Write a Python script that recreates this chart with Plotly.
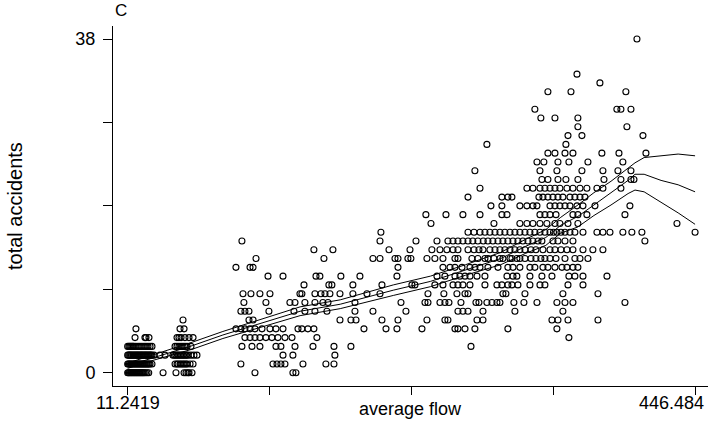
import plotly.graph_objects as go

# ---------------- data ----------------
# flow values (x) of the observations for each accident count (y)
flow_acc0 = [11.2419, 11.9, 12.6, 13.4, 14.1, 14.9, 15.6, 16.4, 17.1, 17.9, 18.6, 19.4, 20.1, 20.9, 21.6, 22.4,
             23.1, 23.9, 24.9, 26.1, 27.4,
             38.4, 48.3, 54.5, 56.0, 57.5, 58.3, 60.6, 108.9, 138.0, 140.3]
flow_acc1 = [11.2419, 11.9, 12.6, 13.4, 14.1, 14.9, 15.6, 16.4, 17.1, 17.9, 18.6, 19.4, 20.1, 20.9, 21.6, 22.4,
             23.1, 23.9, 24.6, 25.4, 26.1, 26.9, 27.6, 28.4, 29.9,
             47.6, 49.1, 49.9, 51.4, 52.2, 53.7, 54.5, 56.0, 56.8, 59.1, 61.4,
             98.1, 122.7, 125.8, 128.8, 131.9, 145.7, 163.3, 169.5]
flow_acc2 = [11.2419, 12.0, 12.8, 13.5, 14.2, 15.1, 15.9, 16.7, 17.5, 18.3, 19.0, 19.8, 20.6, 21.4, 22.1, 22.9,
             23.7, 24.5, 25.2, 26.0, 26.8, 27.6, 28.4, 29.1, 29.9, 31.5, 36.0, 39.9,
             46.0, 47.2, 48.3, 49.5, 50.6, 51.8, 52.9, 54.1, 55.2, 56.4, 57.5, 59.8, 62.1, 64.4,
             130.4, 138.0, 170.2]
flow_acc3 = [11.2419, 12.2, 13.0, 13.8, 14.6, 15.3, 16.1, 17.6, 19.2, 20.7, 22.2, 23.8, 25.3, 26.8, 28.4, 29.9,
             47.6, 49.1, 50.6, 52.2, 53.7, 55.2, 56.8, 59.8,
             98.9, 106.6, 112.7, 125.0, 128.8, 139.6, 153.4, 169.5, 182.5, 274.6]
flow_acc4 = [16.9, 24.5, 25.3, 27.6, 49.1, 50.6, 52.2, 55.2, 58.3, 61.4,
             101.2, 105.1, 108.9, 112.7, 117.3, 121.9, 126.5, 131.9, 137.3, 156.4, 349.7]
flow_acc5 = [17.6, 51.4, 54.5, 94.3, 98.1, 101.2, 105.1, 108.9, 114.3, 120.4, 125.0, 130.4, 141.9, 144.9, 149.5,
             154.1, 192.5, 209.4, 217.8, 237.0, 262.3, 264.6, 270.0, 277.6, 302.9, 340.5]
flow_acc6 = [53.7, 104.3, 107.4, 174.1, 182.5, 186.4, 206.3, 218.6, 240.8, 254.6, 256.9, 279.2, 283.8,
             336.7, 341.3, 349.0, 372.0]
flow_acc7 = [98.1, 101.2, 104.3, 119.6, 138.8, 147.2, 154.9, 164.1, 185.6, 199.4, 224.7, 264.6, 268.4, 272.3,
             283.8, 308.3, 345.1]
flow_acc8 = [100.4, 117.3, 135.7, 139.6, 147.2, 154.9, 161.0, 164.9, 185.6, 220.9, 239.3, 241.6, 250.8, 254.6,
             257.7, 266.9, 278.4, 280.7, 286.8, 290.7, 294.5, 296.8, 307.5, 315.2, 325.2, 340.5, 346.7, 352.8, 392.7]
flow_acc9 = [99.7, 105.8, 112.7, 120.4, 143.4, 144.9, 154.9, 159.5, 162.6, 166.4, 174.1, 184.0, 194.8, 204.8,
             241.6, 253.8, 263.8, 270.0, 272.3, 299.1, 301.4, 316.0, 345.1, 372.0]
flow_acc10 = [146.5, 165.6, 167.9, 184.0, 206.3, 229.3, 231.6, 246.9, 253.1, 260.8, 264.6, 268.4, 273.8, 285.3,
              294.5, 298.3, 302.9, 306.0, 310.6, 319.8, 327.5, 331.3, 349.0, 360.5]
flow_acc11 = [118.9, 130.4, 155.7, 158.7, 174.8, 189.4, 217.8, 248.5, 254.6, 262.3, 266.1, 270.0, 273.8, 279.2,
              285.3, 302.2, 306.8, 309.8, 319.8, 329.0, 336.7, 349.7, 354.3, 360.5, 378.9]
flow_acc12 = [94.3, 105.1, 107.4, 218.6, 253.1, 258.5, 262.3, 267.7, 273.8, 277.6, 281.5, 287.6, 295.3, 302.9,
              306.8, 312.1, 319.8, 323.6, 329.8, 333.6, 339.0, 344.4, 348.2, 352.8, 356.6]
flow_acc13 = [109.7, 161.8, 199.4, 204.8, 216.3, 218.6, 226.2, 228.5, 240.8, 246.9, 253.1, 262.3, 264.6, 275.3,
              279.9, 285.3, 287.6, 292.2, 296.8, 299.1, 304.5, 306.0, 309.8, 312.1, 316.0, 320.6, 324.4, 328.2,
              331.3, 335.2, 339.8, 346.7, 354.3, 358.2, 364.3]
flow_acc14 = [154.1, 168.7, 211.7, 227.8, 244.6, 250.8, 256.1, 260.8, 264.6, 272.3, 276.9, 280.7, 283.8, 289.1,
              293.0, 296.8, 300.6, 304.5, 308.3, 312.1, 316.0, 320.6, 324.4, 329.8, 335.2, 339.0, 343.6, 348.2,
              352.8, 360.5, 368.1, 375.8]
flow_acc15 = [98.9, 204.8, 232.4, 248.5, 256.9, 260.8, 264.6, 268.4, 272.3, 276.0, 279.9, 284.0, 287.6, 291.4,
              295.3, 299.1, 302.9, 306.8, 310.6, 314.4, 318.3, 322.1, 326.0, 329.0, 337.5, 341.3, 346.7, 352.8,
              408.0]
flow_acc16 = [205.5, 272.3, 276.9, 281.5, 285.3, 289.1, 293.0, 296.8, 300.6, 304.5, 308.3, 312.1, 316.0, 319.8,
              323.6, 327.5, 331.3, 335.2, 337.9, 340.5, 343.6, 346.7, 350.5, 354.3, 360.5, 371.2, 375.8, 381.2,
              391.1, 398.0, 405.7, 446.484]
flow_acc17 = [243.9, 292.2, 312.1, 317.5, 322.1, 327.5, 332.8, 339.0, 342.8, 349.0, 356.6, 432.6]
flow_acc18 = [240.0, 255.4, 268.4, 281.5, 298.3, 302.2, 327.5, 331.3, 335.2, 339.8, 352.8, 356.6, 363.5, 392.7]
flow_acc19 = [289.9, 298.3, 312.1, 317.5, 322.1, 325.2, 335.2, 339.0, 342.8, 346.7, 350.5, 355.9, 360.5, 369.7,
              396.5]
flow_acc20 = [272.3, 298.3, 302.9, 306.0, 326.7, 329.8, 333.6, 337.5, 341.3, 345.1, 350.5, 354.3, 358.2, 362.0]
flow_acc21 = [281.5, 317.5, 322.1, 327.5, 331.3, 335.2, 339.0, 342.8, 348.2, 352.8, 358.2, 363.5, 371.2, 375.8,
              389.6]
flow_acc22 = [329.0, 333.6, 341.3, 347.4, 356.6, 376.6, 389.6, 397.3, 399.6]
flow_acc23 = [277.6, 327.5, 340.5, 359.7, 375.8, 387.3, 397.3]
flow_acc24 = [325.2, 330.5, 341.3, 349.7, 364.3, 391.1]
flow_acc25 = [333.6, 339.0, 346.7, 352.8, 375.0, 388.1, 408.8]
flow_acc26 = [286.8, 347.4]
flow_acc27 = [349.0, 359.7, 406.5]
flow_acc28 = [356.6, 394.2]
flow_acc29 = [328.2, 339.0, 356.6]
flow_acc30 = [323.6, 386.5, 389.6, 397.3]
flow_acc32 = [333.6, 351.3, 393.4]
flow_acc33 = [373.5]
flow_acc34 = [355.9]
flow_acc38 = [401.9]

# smoothed fit with its confidence band
fit_flow = [11.2419, 28.1, 61.2, 84.3, 143.5, 174.3, 215.0, 243.5, 270.4, 297.4, 316.6, 332.0, 343.5, 356.6,
            368.9, 382.0, 395.1, 400.4, 407.4, 420.4, 433.5, 446.484]
fit_mid = [0.8, 1.6, 3.1, 4.3, 7.0, 7.8, 9.4, 10.4, 11.7, 13.0, 14.4, 15.4, 16.8, 17.8, 19.1, 20.5, 21.9, 22.6,
           22.6, 21.9, 21.4, 20.6]
fit_upper = [1.1, 1.9, 3.5, 4.7, 7.5, 8.3, 10.0, 11.0, 12.3, 13.7, 15.2, 16.3, 17.7, 19.1, 20.5, 21.8, 23.3, 23.9,
             24.5, 24.7, 24.9, 24.7]
fit_lower = [0.5, 1.3, 2.7, 3.9, 6.5, 7.3, 8.8, 9.8, 11.1, 12.3, 13.6, 14.5, 15.9, 16.6, 17.9, 19.1, 20.4, 20.8,
             20.6, 19.4, 18.2, 16.9]

x_tick_values = [11.2419, 120.0525, 228.863, 337.6735, 446.484]
x_tick_labels = ["11.2419", "", "", "", "446.484"]
y_tick_values = [0, 9.5, 19, 28.5, 38]
y_tick_labels = ["0", "", "", "", "38"]

# ---------------- build ----------------
levels = [
    (0, flow_acc0), (1, flow_acc1), (2, flow_acc2), (3, flow_acc3), (4, flow_acc4), (5, flow_acc5),
    (6, flow_acc6), (7, flow_acc7), (8, flow_acc8), (9, flow_acc9), (10, flow_acc10), (11, flow_acc11),
    (12, flow_acc12), (13, flow_acc13), (14, flow_acc14), (15, flow_acc15), (16, flow_acc16),
    (17, flow_acc17), (18, flow_acc18), (19, flow_acc19), (20, flow_acc20), (21, flow_acc21),
    (22, flow_acc22), (23, flow_acc23), (24, flow_acc24), (25, flow_acc25), (26, flow_acc26),
    (27, flow_acc27), (28, flow_acc28), (29, flow_acc29), (30, flow_acc30), (32, flow_acc32),
    (33, flow_acc33), (34, flow_acc34), (38, flow_acc38),
]
xs, ys = [], []
for acc, flows in levels:
    xs.extend(flows)
    ys.extend([acc] * len(flows))

FONT = "Liberation Sans, Arial, sans-serif"

fig = go.Figure()
fig.add_trace(go.Scatter(
    x=xs, y=ys, mode="markers",
    marker=dict(symbol="circle-open", size=6, color="black", line=dict(width=1.1, color="black")),
    hoverinfo="skip",
))
for band in (fit_upper, fit_mid, fit_lower):
    fig.add_trace(go.Scatter(x=fit_flow, y=band, mode="lines",
                             line=dict(color="black", width=1), hoverinfo="skip"))

fig.update_layout(
    width=708, height=421,
    margin=dict(l=113, r=0, t=26, b=35),
    plot_bgcolor="white", paper_bgcolor="white",
    showlegend=False,
    font=dict(family=FONT, color="black"),
    xaxis=dict(range=[0, 456.4], showgrid=False, zeroline=False,
               showline=True, linecolor="black", linewidth=1,
               ticks="outside", ticklen=8, tickcolor="black", tickwidth=1,
               tickvals=x_tick_values, ticktext=["", "", "", "", ""]),
    yaxis=dict(range=[-1.51, 39.48], showgrid=False, zeroline=False,
               showline=True, linecolor="black", linewidth=1,
               ticks="outside", ticklen=9, tickcolor="black", tickwidth=1,
               tickvals=y_tick_values, ticktext=y_tick_labels, ticklabelstandoff=4,
               tickfont=dict(size=18, family=FONT, color="black")),
)

plot_w = 595
plot_h = 360
annotations = [
    dict(text=x_tick_labels[0], x=x_tick_values[0], xref="x", xanchor="center",
         y=(386 - 391) / plot_h, yref="paper", yanchor="top", showarrow=False,
         font=dict(size=18, family=FONT, color="black")),
    dict(text=x_tick_labels[-1], x=(706 - 113) / plot_w, xref="paper", xanchor="right",
         y=(386 - 391) / plot_h, yref="paper", yanchor="top", showarrow=False,
         font=dict(size=18, family=FONT, color="black")),
    dict(text="average flow", x=0.5, xref="paper", xanchor="center",
         y=(386 - 421) / plot_h, yref="paper", yanchor="bottom", showarrow=False,
         font=dict(size=18, family=FONT, color="black")),
    dict(text="total accidents", x=(15 - 113) / plot_w, xref="paper", xanchor="center",
         y=0.5, yref="paper", yanchor="middle", textangle=-90, showarrow=False,
         font=dict(size=20, family=FONT, color="black")),
    dict(text="C", x=0, xref="paper", xanchor="left",
         y=(386 - 11) / plot_h, yref="paper", yanchor="middle", showarrow=False,
         font=dict(size=17, family=FONT, color="black")),
]
fig.update_layout(annotations=annotations)

# remove the browser's default 8px page margin so the 708x421 figure fills the window
fig.write_html("out.html", config={"displayModeBar": False},
               post_script="document.body.style.margin='0';")
